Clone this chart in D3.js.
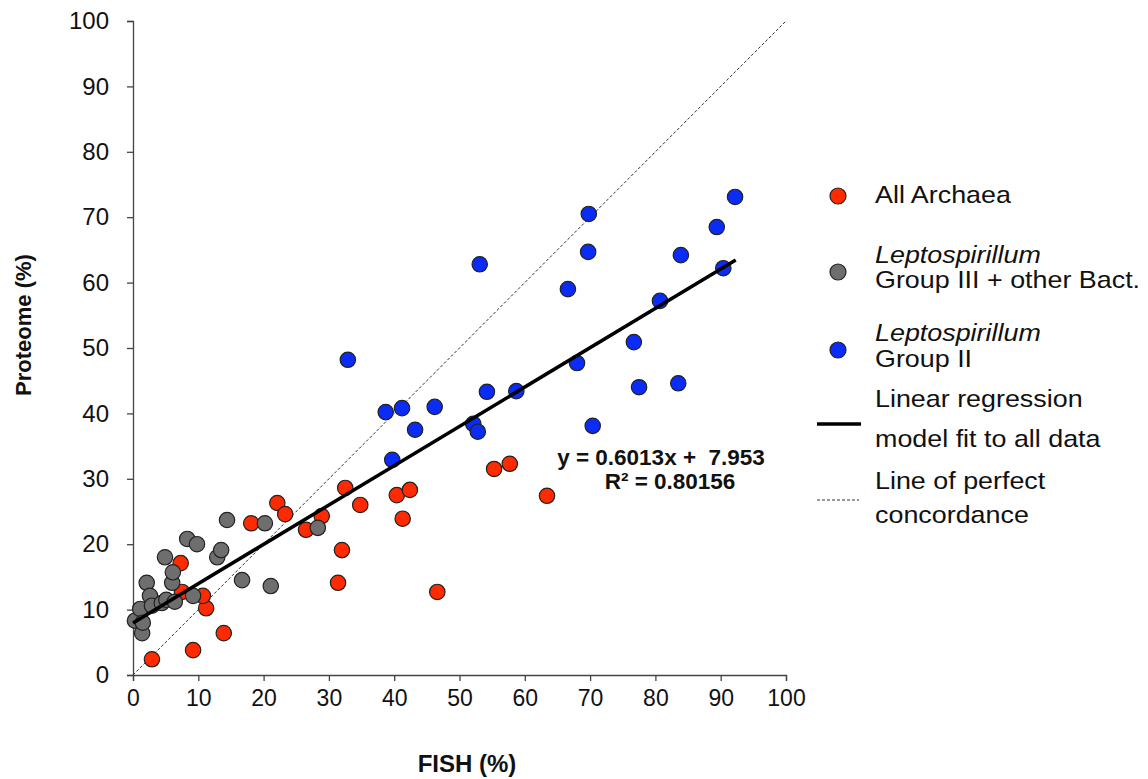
<!DOCTYPE html>
<html>
<head>
<meta charset="utf-8">
<script src="https://cdn.jsdelivr.net/npm/d3@7"></script>
<style>
  body { margin: 0; background: #fff; }
  text { font-family: "Liberation Sans", Arial, sans-serif; fill: #111; }
</style>
</head>
<body>
<svg id="viz"></svg>
<script>
// FISH vs proteome abundance

const archaeaX = [2.9, 9.2, 13.9, 11.2, 10.7, 7.5, 7.3, 18.1, 22.1, 23.3, 26.5, 28.9, 32.5, 32.0, 31.4, 34.8, 40.4, 42.4, 41.3, 46.6, 55.3, 57.7, 63.4];
const archaeaY = [2.4, 3.8, 6.4, 10.2, 12.1, 12.7, 17.1, 23.2, 26.3, 24.6, 22.2, 24.3, 28.6, 19.1, 14.1, 26.0, 27.5, 28.3, 23.9, 12.7, 31.5, 32.3, 27.4];

const grp3X = [0.3, 1.1, 1.4, 1.5, 2.1, 2.6, 2.9, 4.4, 5.1, 6.4, 4.9, 6.0, 6.1, 8.3, 9.8, 9.2, 12.9, 13.5, 14.4, 16.7, 20.2, 21.1, 28.3];
const grp3Y = [8.3, 10.1, 6.4, 8.0, 14.1, 12.1, 10.6, 11.0, 11.5, 11.2, 18.0, 14.1, 15.7, 20.8, 20.0, 12.1, 18.0, 19.1, 23.7, 14.5, 23.2, 13.6, 22.5];

const grp2X = [38.7, 41.2, 46.2, 43.2, 39.7, 52.1, 52.8, 32.9, 53.1, 54.2, 58.7, 66.6, 68.0, 69.8, 69.7, 70.4, 76.7, 77.5, 80.7, 83.5, 83.9, 89.4, 90.4, 92.2];
const grp2Y = [40.2, 40.8, 41.0, 37.5, 32.9, 38.4, 37.2, 48.2, 62.8, 43.3, 43.4, 59.0, 47.7, 70.5, 64.7, 38.1, 50.9, 44.0, 57.2, 44.6, 64.2, 68.5, 62.2, 73.1];

const slope = 0.6013, intercept = 7.953;
const fitRange = [0, 92.3];
const ticks = [0, 10, 20, 30, 40, 50, 60, 70, 80, 90, 100];

const series = [
  { name: "archaea", xs: archaeaX, ys: archaeaY, color: "#ff2a00" },
  { name: "group3", xs: grp3X, ys: grp3Y, color: "#6e6e6e" },
  { name: "group2", xs: grp2X, ys: grp2Y, color: "#0a2cf6" }
];

const width = 1148, height = 779;
const margin = { left: 133, top: 21, right: 362, bottom: 104 };

const svg = d3.select("#viz").attr("width", width).attr("height", height);

const x = d3.scaleLinear().domain([0, 100]).range([margin.left, width - margin.right]);
const y = d3.scaleLinear().domain([0, 100]).range([height - margin.bottom, margin.top]);

// axes
const xAxis = svg.append("g")
  .attr("transform", `translate(0,${y(0)})`)
  .call(d3.axisBottom(x).tickValues(ticks).tickSize(6).tickPadding(9));
const yAxis = svg.append("g")
  .attr("transform", `translate(${x(0)},0)`)
  .call(d3.axisLeft(y).tickValues(ticks).tickSize(6).tickPadding(18));

[xAxis, yAxis].forEach(a => {
  a.select(".domain").attr("stroke", "#444").attr("stroke-width", 1.3);
  a.selectAll(".tick line").attr("stroke", "#444").attr("stroke-width", 1.3);
  a.selectAll("text").style("font-family", "Liberation Sans, Arial, sans-serif").attr("fill", "#111");
});
yAxis.selectAll("text").style("font-size", "24px");
xAxis.selectAll("text").style("font-size", "23px");

// perfect concordance line
svg.append("line")
  .attr("x1", x(0)).attr("y1", y(0))
  .attr("x2", x(100)).attr("y2", y(100))
  .attr("stroke", "#333").attr("stroke-width", 1)
  .attr("stroke-dasharray", "3,2");

// points
series.forEach(s => {
  svg.append("g").selectAll("circle")
    .data(s.xs.map((v, i) => [v, s.ys[i]]))
    .enter().append("circle")
    .attr("cx", d => x(d[0]))
    .attr("cy", d => y(d[1]))
    .attr("r", 7.7)
    .attr("fill", s.color)
    .attr("stroke", "#222")
    .attr("stroke-width", 1.2);
});

// regression line
svg.append("line")
  .attr("x1", x(fitRange[0])).attr("y1", y(intercept + slope * fitRange[0]))
  .attr("x2", x(fitRange[1])).attr("y2", y(intercept + slope * fitRange[1]))
  .attr("stroke", "#000").attr("stroke-width", 3.5);

// equation
svg.append("text").attr("x", 661).attr("y", 465).attr("text-anchor", "middle")
  .style("font-size", "22.5px").style("font-weight", "bold").style("white-space", "pre")
  .text("y = 0.6013x +  7.953");
svg.append("text").attr("x", 670).attr("y", 489).attr("text-anchor", "middle")
  .style("font-size", "22.5px").style("font-weight", "bold")
  .text("R² = 0.80156");

// axis titles
svg.append("text").attr("x", 467).attr("y", 772).attr("text-anchor", "middle")
  .style("font-size", "24px").style("font-weight", "bold").text("FISH (%)");
svg.append("text").attr("transform", "translate(31,325) rotate(-90)")
  .attr("text-anchor", "middle")
  .style("font-size", "22px").style("font-weight", "bold").text("Proteome (%)");

// legend
const lg = svg.append("g");
const legendDots = [
  { color: series[0].color, cy: 196 },
  { color: series[1].color, cy: 272 },
  { color: series[2].color, cy: 350 }
];
lg.selectAll("circle").data(legendDots).enter().append("circle")
  .attr("cx", 838).attr("cy", d => d.cy).attr("r", 8)
  .attr("fill", d => d.color).attr("stroke", "#222").attr("stroke-width", 1.2);

lg.append("line").attr("x1", 817).attr("x2", 861).attr("y1", 424).attr("y2", 424)
  .attr("stroke", "#000").attr("stroke-width", 3.5);
lg.append("line").attr("x1", 817).attr("x2", 859).attr("y1", 500).attr("y2", 500)
  .attr("stroke", "#333").attr("stroke-width", 1).attr("stroke-dasharray", "3,2");

const legendText = [
  { t: "All Archaea", y: 203 },
  { t: "Leptospirillum", y: 263, italic: true },
  { t: "Group III + other Bact.", y: 288 },
  { t: "Leptospirillum", y: 341, italic: true },
  { t: "Group II", y: 367 },
  { t: "Linear regression", y: 407 },
  { t: "model fit to all data", y: 447 },
  { t: "Line of perfect", y: 489 },
  { t: "concordance", y: 523 }
];
lg.selectAll("text.leg").data(legendText).enter().append("text")
  .attr("class", "leg")
  .attr("transform", d => `translate(875,${d.y}) scale(1.12,1)`)
  .style("font-size", "24px")
  .style("font-style", d => d.italic ? "italic" : "normal")
  .text(d => d.t);
</script>
</body>
</html>
